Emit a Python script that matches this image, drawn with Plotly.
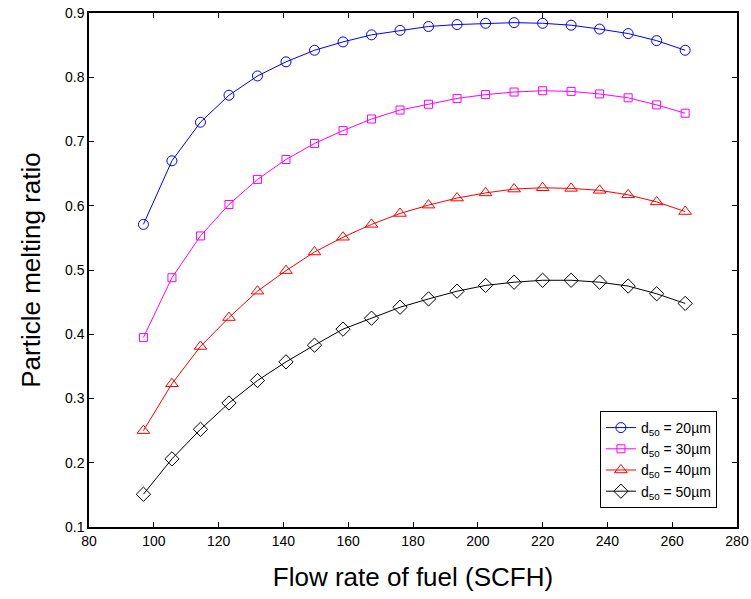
import plotly.graph_objects as go

flow = [96.8, 105.6, 114.4, 123.2, 132.0, 140.8, 149.6, 158.4, 167.2, 176.0,
        184.8, 193.6, 202.4, 211.2, 220.0, 228.8, 237.6, 246.4, 255.2, 264.0]

d20 = [0.571, 0.670, 0.730, 0.772, 0.802, 0.824, 0.842, 0.855, 0.866, 0.873,
       0.879, 0.882, 0.884, 0.885, 0.884, 0.881, 0.875, 0.868, 0.857, 0.842]
d30 = [0.395, 0.488, 0.553, 0.602, 0.641, 0.672, 0.697, 0.717, 0.735, 0.749,
       0.758, 0.767, 0.773, 0.777, 0.779, 0.778, 0.774, 0.768, 0.757, 0.744]
d40 = [0.250, 0.323, 0.381, 0.426, 0.467, 0.499, 0.528, 0.551, 0.571, 0.588,
       0.601, 0.612, 0.620, 0.626, 0.628, 0.627, 0.624, 0.617, 0.606, 0.591]
d50 = [0.151, 0.206, 0.252, 0.293, 0.328, 0.357, 0.383, 0.408, 0.425, 0.442,
       0.455, 0.467, 0.476, 0.481, 0.484, 0.484, 0.481, 0.475, 0.463, 0.448]

names = ["d<sub>50</sub> = 20\u00b5m", "d<sub>50</sub> = 30\u00b5m",
         "d<sub>50</sub> = 40\u00b5m", "d<sub>50</sub> = 50\u00b5m"]
series = [d20, d30, d40, d50]
colors = ["#0000ff", "#ff00ff", "#ff0000", "#000000"]
symbols = ["circle-open", "square-open", "triangle-up-open", "diamond-open"]
sizes = [10, 8, 11, 11]

FONT = "Liberation Sans, Arial, sans-serif"

fig = go.Figure()
for n, s, c, sym, sz in zip(names, series, colors, symbols, sizes):
    fig.add_trace(go.Scatter(
        x=flow, y=s, name=n, mode="lines+markers",
        line=dict(color=c, width=1),
        marker=dict(symbol=sym, size=sz, color=c, line=dict(width=1, color=c)),
    ))

axis_common = dict(
    showline=True, linecolor="black", linewidth=1.5, mirror="ticks",
    ticks="inside", ticklen=5, tickcolor="black", tickwidth=1,
    showgrid=False, zeroline=False, automargin=False,
    tickfont=dict(family=FONT, size=14, color="black"),
)

fig.update_xaxes(range=[80, 280], tickvals=list(range(80, 281, 20)),
                 title=dict(text="Flow rate of fuel (SCFH)", standoff=20,
                            font=dict(family=FONT, size=26, color="black")),
                 **axis_common)
fig.update_yaxes(range=[0.1, 0.9], tickvals=[0.1, 0.2, 0.3, 0.4, 0.5, 0.6, 0.7, 0.8, 0.9],
                 tickformat=".1f",
                 title=dict(text="Particle melting ratio", standoff=17,
                            font=dict(family=FONT, size=26, color="black")),
                 **axis_common)

fig.update_layout(
    width=751, height=599,
    margin=dict(l=89, r=14, t=13, b=72),
    paper_bgcolor="white", plot_bgcolor="white",
    font=dict(family=FONT, color="black"),
    legend=dict(x=0.969, y=0.037, xanchor="right", yanchor="bottom",
                bordercolor="black", borderwidth=1, bgcolor="white",
                font=dict(size=14), tracegroupgap=0, itemwidth=30),
    showlegend=True,
)

fig.write_html("out.html")
